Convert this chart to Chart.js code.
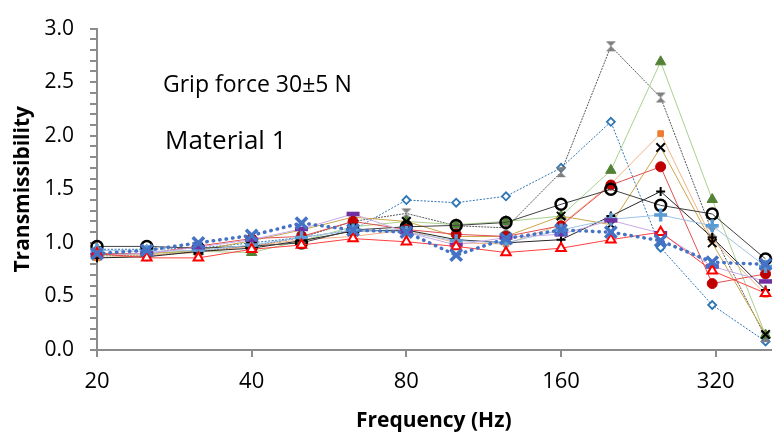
<!DOCTYPE html>
<html>
<head>
<meta charset="utf-8">
<script src="https://cdn.jsdelivr.net/npm/chart.js"></script>
<style>
	html, body { margin: 0; padding: 0; background: #ffffff; }
	#wrap { width: 782px; height: 438px; }
</style>
</head>
<body>
<div id="wrap"><canvas id="chart" width="782" height="438"></canvas></div>
<script>
// 1/3 octave centre frequencies (Hz)
const frequencies = [20, 25, 31.5, 40, 50, 63, 80, 100, 125, 160, 200, 250, 315, 400];
const xTicks = [20, 40, 80, 160, 320];

// transmissibility per subject
const blueDiamond = [0.94, 0.94, 0.95, 1.00, 1.05, 1.12, 1.40, 1.375, 1.435, 1.70, 2.13, 0.955, 0.42, 0.08];
const grayBowtie = [0.88, 0.88, 0.92, 0.97, 1.05, 1.20, 1.275, 1.16, 1.14, 1.66, 2.835, 2.357, 1.10, 0.12];
const greenTriangle = [0.88, 0.90, 0.92, 0.91, 1.02, 1.15, 1.20, 1.17, 1.20, 1.25, 1.677, 2.69, 1.405, 0.14];
const orangeSquare = [0.86, 0.885, 0.91, 0.97, 1.03, 1.06, 1.12, 1.00, 0.99, 1.17, 1.55, 2.02, 1.03, 0.52];
const blackCross = [0.90, 0.90, 0.93, 1.02, 1.12, 1.24, 1.20, 1.06, 1.06, 1.25, 1.17, 1.89, 1.00, 0.145];
const redCircle = [0.90, 0.90, 0.97, 1.04, 1.06, 1.20, 1.125, 1.08, 1.06, 1.16, 1.54, 1.71, 0.62, 0.71];
const blackPlus = [0.86, 0.87, 0.92, 0.95, 1.02, 1.11, 1.12, 1.03, 1.00, 1.03, 1.25, 1.48, 1.05, 0.56];
const blackRing = [0.967, 0.967, 0.95, 0.97, 1.00, 1.12, 1.15, 1.163, 1.19, 1.36, 1.50, 1.35, 1.27, 0.85];
const lightBluePlus = [0.93, 0.92, 0.93, 0.98, 1.05, 1.12, 1.10, 1.02, 1.00, 1.12, 1.22, 1.26, 1.16, 0.78];
const purpleBar = [0.89, 0.90, 0.96, 1.03, 1.13, 1.27, 1.10, 0.98, 1.05, 1.08, 1.21, 1.09, 0.78, 0.64];
const redTriangle = [0.90, 0.86, 0.86, 0.94, 0.98, 1.04, 1.01, 0.967, 0.91, 0.95, 1.03, 1.10, 0.74, 0.53];
const blueX = [0.90, 0.93, 1.00, 1.07, 1.185, 1.12, 1.10, 0.885, 1.04, 1.12, 1.10, 1.02, 0.82, 0.80];

const annotationLines = ['Grip force 30\u00b15 N', 'Material 1'];

const fontFamily = '"Open Sans", sans-serif';
const axisGray = '#8c8c8c';

function makeBowtie() {
	let c = document.createElement('canvas');
	c.width = 12;
	c.height = 12;
	let g = c.getContext('2d');
	g.fillStyle = '#7f7f7f';
	g.beginPath();
	g.moveTo(1, 1); g.lineTo(11, 1); g.lineTo(6, 6); g.closePath();
	g.moveTo(1, 11); g.lineTo(11, 11); g.lineTo(6, 6); g.closePath();
	g.fill();
	return c;
}

function toPoints(values) {
	let pts = [];
	for (let i = 0; i < frequencies.length; i++) {
		pts.push({ x: frequencies[i], y: values[i] });
	}
	return pts;
}

function series(values, line, marker) {
	return Object.assign({
		data: toPoints(values),
		borderColor: line.color,
		borderWidth: line.width || 1,
		borderDash: line.dash || [],
		borderCapStyle: line.cap || 'butt',
		tension: 0,
		fill: false,
		clip: false,
	}, marker);
}

const textPlugin = {
	id: 'gripText',
	afterDraw(chart) {
		const ctx = chart.ctx;
		ctx.save();
		ctx.fillStyle = '#000000';
		ctx.textBaseline = 'alphabetic';
		ctx.font = '23px ' + fontFamily;
		ctx.fillText(annotationLines[0], 163, 92);
		ctx.font = '26px ' + fontFamily;
		ctx.fillText(annotationLines[1], 165, 149);
		ctx.restore();
	}
};

function renderChart() {
	// first dataset ends up on top
	const datasets = [
		series(blueX, { color: '#4472c4', width: 3.5, dash: [0.5, 6], cap: 'round' },
			{ pointStyle: 'crossRot', pointRadius: 8, pointBorderColor: '#4472c4', pointBorderWidth: 3.5 }),
		series(redTriangle, { color: '#ff4040' },
			{ pointStyle: 'triangle', pointRadius: 5.5, pointBorderColor: '#ff0000', pointBackgroundColor: '#ffffff', pointBorderWidth: 2 }),
		series(purpleBar, { color: '#c9a8e6' },
			{ pointStyle: 'line', pointRadius: 6.5, pointBorderColor: '#7030a0', pointBorderWidth: 4.5 }),
		series(lightBluePlus, { color: '#9dc3e6' },
			{ pointStyle: 'cross', pointRadius: 6.5, pointBorderColor: '#5b9bd5', pointBorderWidth: 3.5 }),
		series(blackRing, { color: '#404040' },
			{ pointStyle: 'circle', pointRadius: 5.5, pointBorderColor: '#000000', pointBackgroundColor: 'rgba(255,255,255,0)', pointBorderWidth: 2.5 }),
		series(blackPlus, { color: '#262626' },
			{ pointStyle: 'cross', pointRadius: 4.5, pointBorderColor: '#000000', pointBorderWidth: 2 }),
		series(redCircle, { color: '#e05050' },
			{ pointStyle: 'circle', pointRadius: 5, pointBorderColor: '#c00000', pointBackgroundColor: '#c00000', pointBorderWidth: 1 }),
		series(blackCross, { color: '#c9a648' },
			{ pointStyle: 'crossRot', pointRadius: 6, pointBorderColor: '#000000', pointBorderWidth: 2 }),
		series(orangeSquare, { color: '#f4b183' },
			{ pointStyle: 'rect', pointRadius: 4, pointBorderColor: '#ed7d31', pointBackgroundColor: '#ed7d31', pointBorderWidth: 1 }),
		series(greenTriangle, { color: '#a9d18e' },
			{ pointStyle: 'triangle', pointRadius: 6, pointBorderColor: '#548235', pointBackgroundColor: '#548235', pointBorderWidth: 1 }),
		series(grayBowtie, { color: '#595959', dash: [2, 1] },
			{ pointStyle: makeBowtie(), pointRadius: 6 }),
		series(blueDiamond, { color: '#2e75b6', dash: [2, 1.5] },
			{ pointStyle: 'rectRot', pointRadius: 4, pointBorderColor: '#2e75b6', pointBackgroundColor: '#ffffff', pointBorderWidth: 1.8 }),
	];

	const ctx = document.getElementById('chart');
	new Chart(ctx, {
		type: 'line',
		data: { datasets: datasets },
		plugins: [textPlugin],
		options: {
			responsive: false,
			animation: false,
			events: [],
			devicePixelRatio: 1,
			layout: { padding: { left: 0, right: 0, top: 19, bottom: 0 } },
			plugins: {
				legend: { display: false },
				tooltip: { enabled: false },
			},
			scales: {
				x: {
					type: 'logarithmic',
					min: 20,
					max: 409,
					afterBuildTicks: (scale) => {
						scale.ticks = xTicks.map((v) => ({ value: v }));
					},
					afterFit: (scale) => { scale.height = 88; },
					border: { color: axisGray, width: 2 },
					grid: { drawOnChartArea: false, drawTicks: true, tickLength: 7, color: axisGray, lineWidth: 2 },
					ticks: {
						autoSkip: false,
						maxRotation: 0,
						padding: 12,
						color: '#000000',
						font: { family: fontFamily, size: 22 },
						callback: (v) => String(v),
					},
					title: {
						display: true,
						text: 'Frequency (Hz)',
						color: '#000000',
						font: { family: fontFamily, size: 21, weight: 'bold' },
						padding: { top: 0, bottom: 4 },
					},
				},
				y: {
					type: 'linear',
					min: 0,
					max: 3,
					afterFit: (scale) => { scale.width = 97; },
					border: { color: axisGray, width: 2 },
					grid: { drawOnChartArea: false, drawTicks: true, tickLength: 7, color: axisGray, lineWidth: 2 },
					ticks: {
						stepSize: 0.1,
						autoSkip: false,
						padding: 16,
						color: '#000000',
						font: { family: fontFamily, size: 21 },
						callback: (v) => {
							let tenths = Math.round(v * 10);
							return tenths % 5 === 0 ? (tenths / 10).toFixed(1) : '';
						},
					},
					title: {
						display: true,
						text: 'Transmissibility',
						color: '#000000',
						font: { family: fontFamily, size: 21, weight: 'bold' },
						padding: { top: 10, bottom: 0 },
					},
				},
			},
		},
	});
}

renderChart();
</script>
</body>
</html>
